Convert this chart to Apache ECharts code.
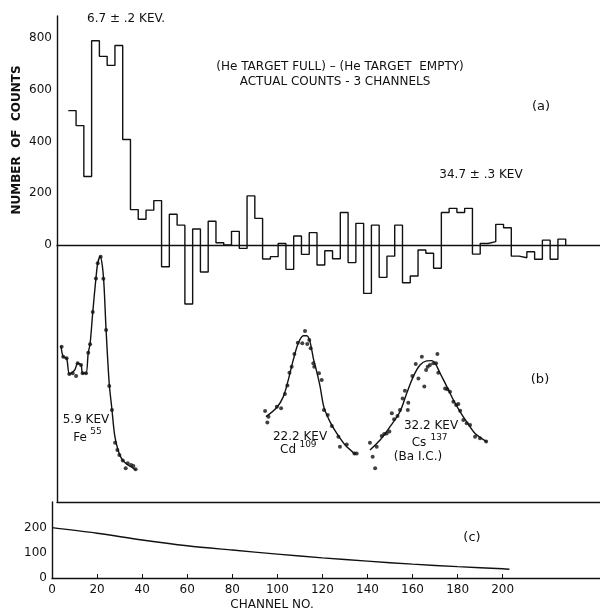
<!DOCTYPE html>
<html>
<head>
<meta charset="utf-8">
<script src="https://cdn.jsdelivr.net/npm/echarts@6/dist/echarts.min.js"></script>
<style>
  html, body { margin: 0; padding: 0; background: #fff; }
  #chart { width: 600px; height: 615px; }
</style>
</head>
<body>
<div id="chart"></div>
<script>
// (a) difference spectrum, 3 channel bins
var histStart = 7.45;
var histBinWidth = 3.446;
var histCounts = [520, 462, 265, 790, 730, 695, 772, 408, 137, 100, 135, 172,
  -84, 119, 77, -228, 62, -104, 92, 9, 0, 53, -13, 190, 103, -54, -45, 6, -94, 35,
  -36, 48, -77, -22, -53, 126, -68, 84, -187, 77, -125, -43, 77, -146, -120, -19,
  -32, -90, 126, 142, 126, 142, -35, 6, 13, 80, 67, -43, -49, -26, -55, 19, -55, 23];
var countTicks = [0, 200, 400, 600, 800];

// (b) calibration lines, [channel, relative height]
var fePoints = [[4.5,60.4],[5.2,56.5],[6.7,55.9],[7.9,49.8],[9.4,50.1],[10.9,49.0],[11.6,54.0],
  [13.1,53.3],[13.8,50.1],[15.3,50.1],[16.3,58.1],[17.1,61.4],[18.3,73.9],[19.7,87.0],[20.5,92.9],
  [21.8,95.4],[23.0,86.9],[24.2,66.9],[25.6,45.1],[26.8,35.8],[28.2,23.1],[29.2,20.2],[30.1,18.3],
  [31.6,16.1],[32.9,13.1],[33.8,15.1],[35.3,14.4],[36.3,14.0],[37.3,12.7]];
var feCurve = [[4.2,60.7],[5.2,56.5],[6.7,55.9],[7.9,49.8],[9.4,50.6],[10.4,51.5],[11.6,54.0],
  [13.1,53.3],[13.8,50.1],[15.3,50.1],[16.3,58.1],[17.1,61.4],[18.3,73.9],[19.7,87.0],[20.5,92.9],
  [21.6,95.6],[22.6,91.5],[23.3,84],[24.2,67],[25.6,46],[26.8,36],[28.0,26],[29.4,20.5],[31.0,17],
  [33.0,15],[35.0,13.8],[37.3,12.5]];
var cdPoints = [[94.7,35.4],[96.2,33.2],[95.7,30.9],[99.9,37.1],[101.8,36.5],[103.5,42.0],[104.6,45.3],
  [105.5,50.3],[106.5,52.6],[107.7,57.6],[109.2,62.0],[111.2,61.8],[112.4,66.5],[113.4,61.5],
  [114.3,63.0],[114.9,59.8],[116.1,54.0],[116.5,52.6],[118.6,50.1],[119.8,47.5],[120.8,35.8],
  [122.5,33.9],[124.3,29.6],[127.2,25.4],[127.9,21.5],[130.9,22.4],[134.3,18.9],[135.3,18.9]];
var cdCurve = [[95.1,33.2],[99.9,36.8],[102.8,41.0],[105.0,47.5],[107.2,55.3],[109.4,61.8],[111.7,64.7],
  [113.2,64.7],[114.6,62.4],[116.1,55.9],[117.6,50.7],[119.1,44.9],[120.8,36.8],[123.5,31.2],
  [126.5,26.7],[130.2,22.2],[134.6,18.7]];
var csPoints = [[141.2,23.1],[142.4,17.6],[143.5,13.1],[144.2,21.5],[146.4,25.7],[147.5,26.5],[148.6,26.7],
  [149.8,27.4],[150.9,34.5],[151.9,32.2],[153.4,33.5],[154.5,35.8],[155.7,40.3],[156.7,43.3],[158.0,35.8],
  [158.2,38.6],[160.0,49.0],[161.5,53.7],[162.7,48.1],[164.2,56.5],[165.3,44.9],[166.1,51.4],[166.8,52.6],
  [167.8,53.3],[169.3,54.0],[171.1,57.6],[170.5,54.0],[171.5,50.3],[174.5,44.2],[175.5,43.9],[176.7,42.9],
  [178.2,39.0],[179.4,37.7],[180.4,38.1],[181.2,35.5],[182.6,31.9],[184.1,30.6],[185.6,30.0],[187.8,25.4],
  [190.0,24.8],[192.7,23.5]];
var csCurve = [[141.2,20.2],[145.7,24.1],[150.1,29.3],[154.5,35.1],[157.5,42.3],[160.4,48.8],[163.4,53.3],
  [166.4,54.9],[168.6,55.0],[170.1,54.0],[172.3,50.1],[175.3,44.9],[178.2,39.7],[181.2,35.1],[184.1,31.2],
  [187.8,26.7],[193.0,23.5]];

// (c) efficiency curve
var effChannels = [0, 20, 40, 60, 80, 100, 120, 140, 160, 180, 200, 203];
var effValues = [200, 178, 151, 128, 111, 95, 80, 67, 55, 45, 37, 35];
var effTicks = [0, 100, 200];
var channelTicks = [0, 20, 40, 60, 80, 100, 120, 140, 160, 180, 200];

var ink = '#111';
var font = 'DejaVu Sans';

var histData = histCounts.map(function (c, i) {
  return [histStart + i * histBinWidth, c];
});
histData.push([histStart + histCounts.length * histBinWidth, 0]);

var effData = effChannels.map(function (c, i) { return [c, effValues[i]]; });

function label(text, x, y, size, weight) {
  return {
    type: 'text', x: x, y: y, silent: true,
    style: { text: text, fill: ink,
      font: (weight || 'normal') + ' ' + (size || 12) + 'px "' + font + '"',
      textAlign: 'center', textVerticalAlign: 'middle' }
  };
}

var chart = echarts.init(document.getElementById('chart'));
var hiddenAxis = { axisLabel: { show: false }, axisTick: { show: false }, splitLine: { show: false } };
var lineStyle = { color: ink, width: 1.4 };

var yTitle = label('NUMBER  OF  COUNTS', 17, 140, 12, 'bold');
yTitle.rotation = Math.PI / 2;

chart.setOption({
  animation: false,
  backgroundColor: '#fff',
  textStyle: { fontFamily: font, color: ink },
  grid: [
    { left: 57, right: 0, top: 16, bottom: 113 },
    { left: 57, right: 0, top: 245, bottom: 113 },
    { left: 52, right: 0, top: 502, bottom: 37 }
  ],
  xAxis: [
    Object.assign({ type: 'value', gridIndex: 0, min: 2.44, max: 243.2,
      axisLine: { onZero: true, lineStyle: lineStyle } }, hiddenAxis),
    Object.assign({ type: 'value', gridIndex: 1, min: 2.44, max: 243.2,
      axisLine: { lineStyle: lineStyle } }, hiddenAxis),
    { type: 'value', gridIndex: 2, min: 0, max: 243.2,
      axisLine: { lineStyle: lineStyle },
      axisTick: { inside: true, length: 4, lineStyle: { color: ink }, customValues: channelTicks },
      axisLabel: { customValues: channelTicks, fontSize: 12, color: ink, margin: 6 },
      splitLine: { show: false } }
  ],
  yAxis: [
    { type: 'value', gridIndex: 0, min: -994, max: 886,
      axisLine: { show: true, lineStyle: lineStyle },
      axisTick: { show: false },
      axisLabel: { customValues: countTicks, fontSize: 12, color: ink, margin: 5 },
      splitLine: { show: false } },
    { type: 'value', gridIndex: 1, min: 0, max: 100, show: false },
    { type: 'value', gridIndex: 2, min: 0, max: 302,
      axisLine: { show: true, lineStyle: lineStyle },
      axisTick: { show: false },
      axisLabel: { customValues: effTicks, fontSize: 12, color: ink, margin: 5 },
      splitLine: { show: false } }
  ],
  series: [
    { type: 'line', xAxisIndex: 0, yAxisIndex: 0, step: 'end', symbol: 'none',
      lineStyle: lineStyle, data: histData },
    { type: 'line', xAxisIndex: 1, yAxisIndex: 1, smooth: 0.3, symbol: 'none',
      lineStyle: lineStyle, data: feCurve },
    { type: 'line', xAxisIndex: 1, yAxisIndex: 1, smooth: 0.3, symbol: 'none',
      lineStyle: lineStyle, data: cdCurve },
    { type: 'line', xAxisIndex: 1, yAxisIndex: 1, smooth: 0.3, symbol: 'none',
      lineStyle: lineStyle, data: csCurve },
    { type: 'scatter', xAxisIndex: 1, yAxisIndex: 1, symbolSize: 4,
      itemStyle: { color: ink }, data: fePoints.concat(cdPoints, csPoints) },
    { type: 'line', xAxisIndex: 2, yAxisIndex: 2, smooth: 0.3, symbol: 'none',
      lineStyle: lineStyle, data: effData }
  ],
  graphic: [
    yTitle,
    label('6.7 ± .2 KEV.', 126, 19),
    label('(He TARGET FULL) – (He TARGET  EMPTY)', 340, 67),
    label('ACTUAL COUNTS - 3 CHANNELS', 335, 82),
    label('(a)', 541, 107, 13),
    label('34.7 ± .3 KEV', 481, 175),
    label('(b)', 540, 380, 13),
    label('5.9 KEV', 86, 420),
    label('Fe', 80, 438),
    label('55', 96, 432, 9),
    label('22.2 KEV', 300, 437),
    label('Cd', 288, 450),
    label('109', 308, 445, 9),
    label('32.2 KEV', 431, 426),
    label('Cs', 419, 443),
    label('137', 439, 438, 9),
    label('(Ba I.C.)', 418, 457),
    label('(c)', 472, 538, 13),
    label('CHANNEL NO.', 272, 605)
  ]
});
</script>
</body>
</html>
